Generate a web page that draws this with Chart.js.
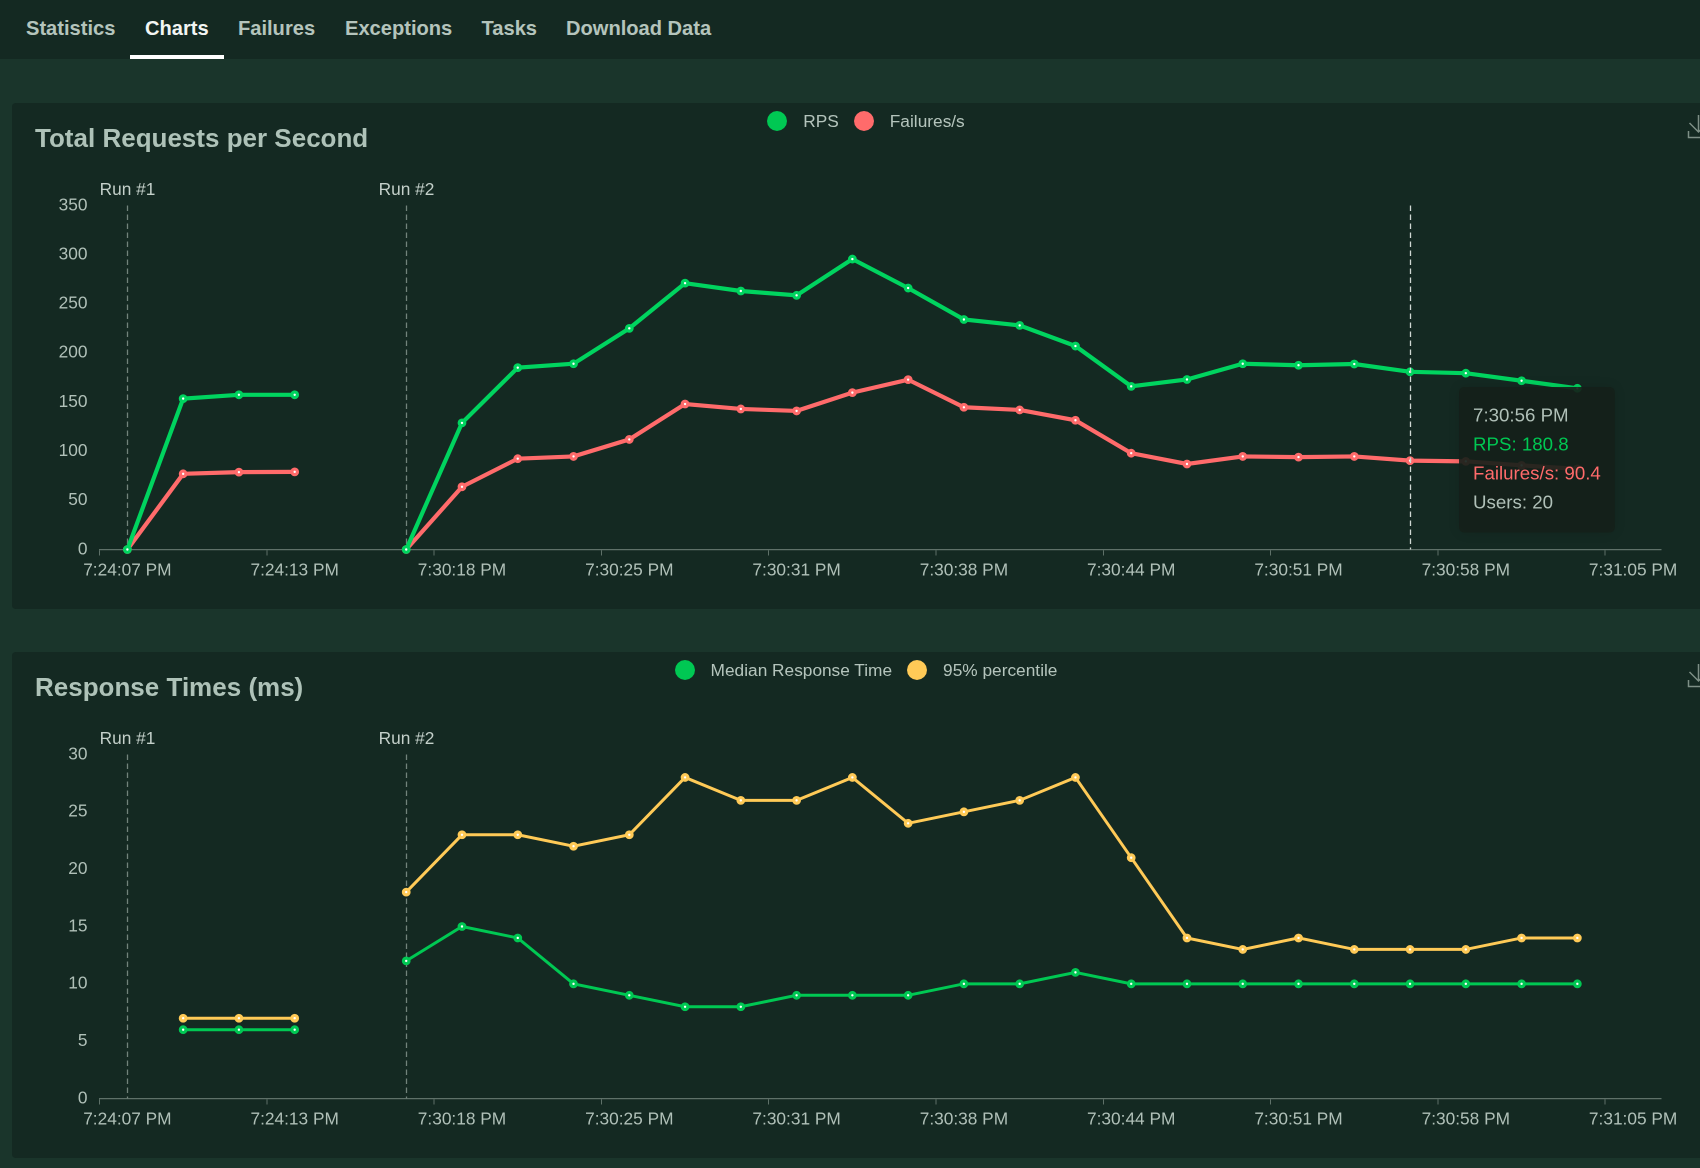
<!DOCTYPE html>
<html>
<head>
<meta charset="utf-8">
<title>Charts</title>
<script src="https://cdn.jsdelivr.net/npm/chart.js@4"></script>
<style>
html, body { margin: 0; width: 1700px; height: 1168px; overflow: hidden; background: #1a352b; font-family: "Liberation Sans", Arial, sans-serif; }
nav { position: absolute; left: 0; top: 0; width: 1700px; height: 59px; background: #142922; }
nav a { position: absolute; top: 16px; font-size: 20.1px; font-weight: bold; color: #b4c4bc; line-height: 24px; }
nav a.active { color: #f2f5f3; }
nav i { position: absolute; left: 130px; top: 55px; width: 94px; height: 4px; background: #fff; }
.panel { position: absolute; left: 12px; width: 1708px; height: 506px; background: #142922; border-radius: 4px; }
.panel canvas { position: absolute; left: 0; top: 0; }
.panel h2 { position: absolute; left: 23px; top: 20px; margin: 0; font-size: 26px; line-height: 30px; font-weight: bold; color: #aec2b8; }
.legend { position: absolute; top: 6px; left: 0; width: 1708px; height: 24px; display: flex; justify-content: center; font-size: 17.3px; line-height: 24px; color: #b4c4bc; }
.legend span { display: flex; align-items: center; margin: 0 7.5px; }
.legend b { display: block; width: 20px; height: 20px; border-radius: 50%; margin-right: 16px; }
.panel svg { position: absolute; left: 1675px; top: 10px; }
</style>
</head>
<body>
<nav>
    <a style="left:26px">Statistics</a>
    <a class="active" style="left:145px">Charts</a>
    <a style="left:238px">Failures</a>
    <a style="left:345px">Exceptions</a>
    <a style="left:481.5px">Tasks</a>
    <a style="left:566px">Download Data</a>
    <i></i>
</nav>
<div class="panel" style="top:103px">
    <canvas id="rpsChart"></canvas>
    <h2>Total Requests per Second</h2>
    <div class="legend" id="rpsLegend"></div>
    <svg width="24" height="28" fill="none" stroke="#7d8f86" stroke-width="1.5"><path d="M1.5 18v6.5H24M11.5 2v17M2.5 10l9 9 9-9"/></svg>
</div>
<div class="panel" style="top:652px">
    <canvas id="timesChart"></canvas>
    <h2>Response Times (ms)</h2>
    <div class="legend" id="timesLegend"></div>
    <svg width="24" height="28" fill="none" stroke="#7d8f86" stroke-width="1.5"><path d="M1.5 18v6.5H24M11.5 2v17M2.5 10l9 9 9-9"/></svg>
</div>
<script>
"use strict";

const categories = [
    "7:24:07 PM", "7:24:09 PM", "7:24:11 PM", "7:24:13 PM", "7:30:14 PM", "7:30:16 PM", "7:30:18 PM",
    "7:30:20 PM", "7:30:23 PM", "7:30:25 PM", "7:30:27 PM", "7:30:29 PM", "7:30:31 PM", "7:30:33 PM",
    "7:30:35 PM", "7:30:38 PM", "7:30:40 PM", "7:30:42 PM", "7:30:44 PM", "7:30:46 PM", "7:30:49 PM",
    "7:30:51 PM", "7:30:53 PM", "7:30:56 PM", "7:30:58 PM", "7:31:00 PM", "7:31:02 PM", "7:31:05 PM"
];

const rps = [
    0, 153.5, 157.4, 157.4, null, 0, 128.8, 185, 189, 225, 271, 263, 258.6, 295.5,
    266, 234, 228, 207, 166, 173, 189, 187.5, 188.7, 180.8, 179.4, 171.7, 164, null
];
const failures = [
    0, 77, 78.7, 79, null, 0, 63.8, 92.4, 94.7, 112, 148, 143, 141, 159.6,
    172.8, 144.7, 142, 131.5, 98, 87, 94.7, 94, 94.7, 90.4, 89.7, 85.6, 82, null
];
const medianTimes = [
    null, 6, 6, 6, null, 12, 15, 14, 10, 9, 8, 8, 9, 9,
    9, 10, 10, 11, 10, 10, 10, 10, 10, 10, 10, 10, 10, null
];
const percentile95 = [
    null, 7, 7, 7, null, 18, 23, 23, 22, 23, 28, 26, 26, 28,
    24, 25, 26, 28, 21, 14, 13, 14, 13, 13, 13, 14, 14, null
];

const runIndexes = [0, 5];
const runLabels = ["Run #1", "Run #2"];
const hoverIndex = 23;
const usersAtHover = 20;

const kGreen = "#00c853";
const kRed = "#ff6b6b";
const kYellow = "#ffca57";
const kTickColor = "#b0c0b8";
const kAxisColor = "#5f7169";

const markLines = {
    id: "markLines",
    beforeDatasetsDraw(chart) {
        const { ctx, chartArea, scales: { x } } = chart;
        ctx.save();
        runIndexes.forEach((index, i) => {
            const px = Math.round(x.getPixelForValue(index)) + 0.5;
            ctx.strokeStyle = "#71837b";
            ctx.lineWidth = 1.3;
            ctx.setLineDash([5.5, 3.5]);
            ctx.beginPath();
            ctx.moveTo(px, chartArea.top);
            ctx.lineTo(px, chartArea.bottom);
            ctx.stroke();
            ctx.font = "17.3px 'Liberation Sans'";
            ctx.fillStyle = "#c4d0ca";
            ctx.textAlign = "center";
            ctx.textBaseline = "middle";
            ctx.fillText(runLabels[i], px, chartArea.top - 15.5);
        });
        ctx.restore();
    }
};

const hoverLine = {
    id: "hoverLine",
    afterDatasetsDraw(chart) {
        if (!chart.options.plugins.tooltip.enabled) {
            return;
        }
        const { ctx, chartArea, scales: { x } } = chart;
        const px = Math.round(x.getPixelForValue(hoverIndex)) + 0.5;
        ctx.save();
        ctx.strokeStyle = "#cfd8d3";
        ctx.lineWidth = 1.3;
        ctx.setLineDash([5.5, 3.5]);
        ctx.beginPath();
        ctx.moveTo(px, chartArea.top);
        ctx.lineTo(px, chartArea.bottom);
        ctx.stroke();
        ctx.restore();
    },
    beforeTooltipDraw(chart, { tooltip }) {
        const { ctx } = chart;
        ctx.save();
        ctx.shadowColor = "rgba(0, 0, 0, 0.3)";
        ctx.shadowBlur = 24;
        ctx.fillStyle = "rgba(22, 32, 26, 0.4)";
        ctx.beginPath();
        ctx.roundRect(tooltip.x, tooltip.y, tooltip.width, tooltip.height, 6);
        ctx.fill();
        ctx.restore();
    }
};

Chart.Tooltip.positioners.besideHover = (items) => {
    if (!items.length) {
        return false;
    }
    return { x: items[0].element.x + 55, y: 284 };
};

function buildDataset(label, data, color, lineWidth) {
    return {
        label,
        data,
        borderColor: color,
        backgroundColor: color,
        borderWidth: lineWidth,
        pointBackgroundColor: "#ffffff",
        pointBorderColor: color,
        pointBorderWidth: 3.2,
        pointRadius: 2.8,
        pointHoverRadius: 2.8,
        pointHoverBorderWidth: 3.2,
        pointHoverBackgroundColor: "#ffffff",
        pointHoverBorderColor: color,
        tension: 0,
        clip: false,
        spanGaps: false
    };
}

function createChart(elementId, legendId, datasets, yMax, yStep, withTooltip) {
    const canvas = document.getElementById(elementId);
    canvas.style.width = "1708px";
    canvas.style.height = "505px";

    const legend = document.getElementById(legendId);
    for (const dataset of datasets) {
        const item = document.createElement("span");
        const dot = document.createElement("b");
        dot.style.background = dataset.legendColor || dataset.borderColor;
        item.appendChild(dot);
        item.appendChild(document.createTextNode(dataset.label));
        legend.appendChild(item);
    }

    const chart = new Chart(canvas.getContext("2d"), {
        type: "line",
        data: { labels: categories, datasets },
        plugins: [markLines, hoverLine],
        options: {
            responsive: false,
            devicePixelRatio: 2,
            animation: false,
            events: [],
            layout: { padding: { top: 102.5, right: 59, bottom: 0, left: 0 } },
            scales: {
                x: {
                    type: "category",
                    offset: true,
                    grid: {
                        display: true,
                        offset: true,
                        drawOnChartArea: false,
                        tickLength: 6,
                        tickColor: (ctx) => (ctx.index % 3 === 0 || ctx.index === categories.length ? kAxisColor : "transparent")
                    },
                    border: { color: kAxisColor, width: 1.2 },
                    ticks: {
                        autoSkip: false,
                        maxRotation: 0,
                        padding: 5,
                        color: kTickColor,
                        font: { family: "'Liberation Sans'", size: 17.3 },
                        callback(value, index) {
                            return index % 3 === 0 ? this.getLabelForValue(value) : "";
                        }
                    },
                    afterFit(scale) {
                        scale.height = 58.5;
                    }
                },
                y: {
                    min: 0,
                    max: yMax,
                    grid: { display: false },
                    border: { display: false },
                    ticks: {
                        stepSize: yStep,
                        padding: 4,
                        color: kTickColor,
                        font: { family: "'Liberation Sans'", size: 17.3 }
                    },
                    afterFit(scale) {
                        scale.width = 87.5;
                    }
                }
            },
            plugins: {
                legend: { display: false },
                title: { display: false },
                tooltip: {
                    enabled: withTooltip,
                    animation: false,
                    mode: "index",
                    intersect: false,
                    position: "besideHover",
                    xAlign: "left",
                    yAlign: "top",
                    caretSize: 0,
                    caretPadding: 0,
                    cornerRadius: 6,
                    displayColors: false,
                    backgroundColor: "rgba(22, 32, 26, 0.84)",
                    padding: { x: 14, y: 18 },
                    titleColor: kTickColor,
                    bodyColor: kTickColor,
                    footerColor: kTickColor,
                    titleFont: { family: "'Liberation Sans'", size: 18.7, weight: "normal" },
                    bodyFont: { family: "'Liberation Sans'", size: 18.7 },
                    footerFont: { family: "'Liberation Sans'", size: 18.7, weight: "normal" },
                    titleMarginBottom: 6.6,
                    bodySpacing: 6.6,
                    footerMarginTop: 6.6,
                    callbacks: {
                        labelTextColor: (item) => item.dataset.legendColor || item.dataset.borderColor,
                        footer: () => `Users: ${usersAtHover}`
                    }
                }
            }
        }
    });

    if (withTooltip) {
        const active = datasets.map((dataset, datasetIndex) => ({ datasetIndex, index: hoverIndex }));
        chart.tooltip.setActiveElements(active, { x: 0, y: 0 });
        chart.update();
    }
}

document.addEventListener("DOMContentLoaded", () => {
    createChart("rpsChart", "rpsLegend", [
        { ...buildDataset("RPS", rps, "#00d45f", 4.2), legendColor: kGreen },
        buildDataset("Failures/s", failures, kRed, 4.2)
    ], 350, 50, true);

    createChart("timesChart", "timesLegend", [
        buildDataset("Median Response Time", medianTimes, kGreen, 3),
        buildDataset("95% percentile", percentile95, kYellow, 3)
    ], 30, 5, false);
});
</script>
</body>
</html>
